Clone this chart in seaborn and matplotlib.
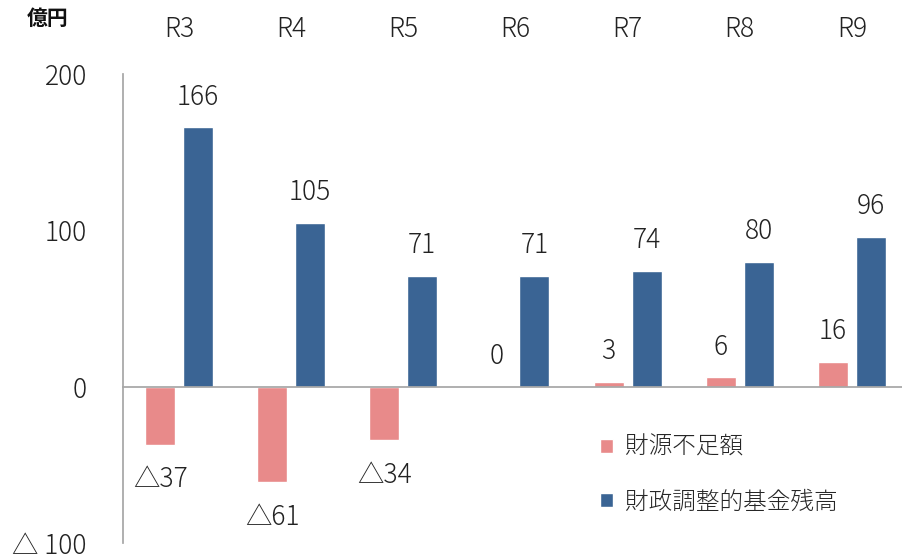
import pandas as pd
import matplotlib.pyplot as plt
import seaborn as sns

sns.set_theme(style="white")
plt.rcParams['font.family'] = ['Noto Sans CJK JP', 'DejaVu Sans']
plt.rcParams['font.weight'] = 'light'

years = ['R3', 'R4', 'R5', 'R6', 'R7', 'R8', 'R9']
shortfall = [-37, -61, -34, 0, 3, 6, 16]
fund_balance = [166, 105, 71, 71, 74, 80, 96]
series_names = ['財源不足額', '財政調整的基金残高']
colors = ['#E88A8A', '#3A6494']

df = pd.DataFrame({
    'year': years * 2,
    'value': shortfall + fund_balance,
    'series': [series_names[0]] * len(years) + [series_names[1]] * len(years),
})

def fmt(v):
    return f'△{-v}' if v < 0 else f'{v}'

txt = '#222222'
fig = plt.figure(figsize=(9.02, 5.59), dpi=100)
ax = fig.add_axes([123 / 902, 16 / 559, 785 / 902, 469 / 559])

sns.barplot(data=df, x='year', y='value', hue='series', palette=colors,
            width=0.676, gap=0.21, saturation=1, ax=ax)

ax.set_ylim(-100, 200)
ax.set_xlim(-0.5, 6.5)
ax.set_xlabel('')
ax.set_ylabel('')

# y axis
ax.set_yticks([-100, 0, 100, 200], labels=['△ 100', '0', '100', '200'])
ax.tick_params(axis='y', direction='in', length=8, width=1, color='#A6A6A6',
               pad=26, labelsize=19, labelcolor=txt)
for s in ['top', 'right']:
    ax.spines[s].set_visible(False)
ax.spines['left'].set_color('#A6A6A6')
ax.spines['bottom'].set_color('#A6A6A6')
ax.spines['bottom'].set_position(('data', 0))

# category boundary ticks on the zero line
ax.set_xticks([i + 0.5 for i in range(6)], labels=[])
ax.tick_params(axis='x', direction='in', length=7, width=1, color='#A6A6A6')

# category labels on top
sec = ax.secondary_xaxis('top')
sec.set_xticks(range(len(years)), labels=years)
sec.tick_params(length=0, pad=22, labelsize=19, labelcolor=txt)
sec.spines['top'].set_visible(False)

# data labels
for cont, vals in zip(ax.containers, [shortfall, fund_balance]):
    for bar, v in zip(cont, vals):
        cx = bar.get_x() + bar.get_width() / 2
        dy = -25 if v < 0 else 22
        ax.annotate(fmt(v), (cx, v), xytext=(0, dy), textcoords='offset points',
                    ha='center', va='center', fontsize=19, color=txt)

ax.legend(loc='upper left', bbox_to_anchor=(600 / 902, 1 - 435 / 559),
          bbox_transform=fig.transFigure, frameon=False, fontsize=17,
          borderpad=0, borderaxespad=0,
          handlelength=0.55, handleheight=0.55, handletextpad=0.5,
          labelspacing=1.25)

fig.text(27 / 902, 1 - 18 / 559, '億円', fontsize=15, fontweight='bold',
         va='center', ha='left', color='#111111')

fig.savefig('out.png', dpi=100)
